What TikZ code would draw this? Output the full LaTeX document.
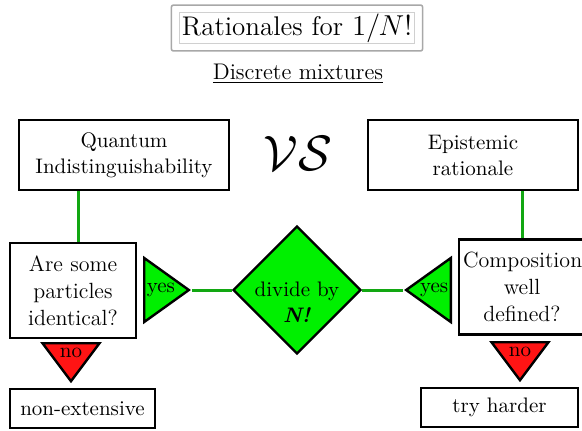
\documentclass[tikz,border=0pt]{standalone}
\usetikzlibrary{fit,positioning,shapes.geometric}
\definecolor{RatInk}{HTML}{000000}
\definecolor{RatGreen}{HTML}{00F000}
\definecolor{RatLink}{HTML}{12A712}
\definecolor{RatRed}{HTML}{FF1414}
\definecolor{RatFrame}{HTML}{A8A8A8}
\definecolor{RatInner}{HTML}{D0D0D0}
\tikzset{
  ratio/box/.style={
    draw=RatInk, line width=1.2pt, fill=white, inner sep=2pt,
    font=\fontsize{10.5}{13}\selectfont, align=center
  },
  ratio/question/.style={ratio/box, text width=59pt,
    minimum width=63pt, minimum height=47.5pt,
    font=\fontsize{11}{13.5}\selectfont},
  ratio/flag/.style={
    isosceles triangle, isosceles triangle stretches,
    draw=RatInk, line width=1.2pt, inner sep=0pt,
    font=\fontsize{10.5}{12}\selectfont
  },
  ratio/yes/.style={ratio/flag, fill=RatGreen,
    minimum width=32pt, minimum height=17pt},
  ratio/no/.style={ratio/flag, fill=RatRed, shape border rotate=270,
    minimum width=28.5pt, minimum height=19pt},
  ratio/link/.style={draw=RatLink, line width=1.5pt}
}
\begin{document}
\begin{tikzpicture}[x=0.5pt,y=-0.5pt]
  \useasboundingbox (0,0) rectangle (582,430);
  % heading
  \node[font=\fontsize{13.5}{16}\selectfont, draw=RatInner, line width=.5pt,
    inner xsep=1pt, inner ysep=.5pt] (title) at (297,28) {Rationales for $1/N!$};
  \node[draw=RatFrame, line width=.8pt, rounded corners=1pt, fit=(title),
    inner xsep=4pt, inner ysep=3.5pt] (titleframe) {};
  \node[font=\fontsize{11.3}{13}\selectfont] (subtitle) at (298,74)
    {\underline{Discrete mixtures}};
  % the two rationales
  \node[ratio/box, minimum width=105pt, minimum height=35pt] (quantum) at (124,155)
    {Quantum\\Indistinguishability};
  \node (vs) at (298,153) {\fontsize{25}{30}\selectfont$\mathcal{VS}$};
  \node[ratio/box, minimum width=105pt, minimum height=35pt] (epist) at (473,155)
    {Epistemic\\rationale};
  \node[ratio/question] (ident) at (73,290.5) {Are some\\particles\\identical?};
  \node[ratio/question] (compo) at (522,287) {Composition\\well\\defined?};
  % answers
  \node[ratio/yes, anchor=lower side] (yesL) at (143,290) {yes};
  \node[ratio/yes, shape border rotate=180, anchor=lower side] (yesR) at (452,290) {yes};
  \node[diamond, draw=RatInk, line width=1.2pt, fill=RatGreen, inner sep=0pt,
    minimum size=64pt] (divide) at (297,290) {};
  \node[align=center, font=\fontsize{10.5}{13}\selectfont] (divtext)
    at ([yshift=-6pt]divide.center) {divide by\\\textbf{\textit{N!}}};
  \node[ratio/no, anchor=lower side] (noL) at (71,342) {no};
  \node[ratio/no, anchor=lower side] (noR) at (520,341) {no};
  \node[ratio/box, minimum width=72.5pt, minimum height=19.5pt] (nonext) at (82.5,408.5)
    {non-extensive};
  \node[ratio/box, minimum width=78.5pt, minimum height=19.5pt] (harder) at (499.5,407.5)
    {try harder};
  % links
  \draw[ratio/link] ([xshift=2.5pt]ident.north) -- ([xshift=2.5pt]ident.north |- quantum.south);
  \draw[ratio/link] (compo.north) -- (compo.north |- epist.south);
  \draw[ratio/link] (yesL.apex) -- (divide.west);
  \draw[ratio/link] (divide.east) -- (yesR.apex);
\end{tikzpicture}
\end{document}
